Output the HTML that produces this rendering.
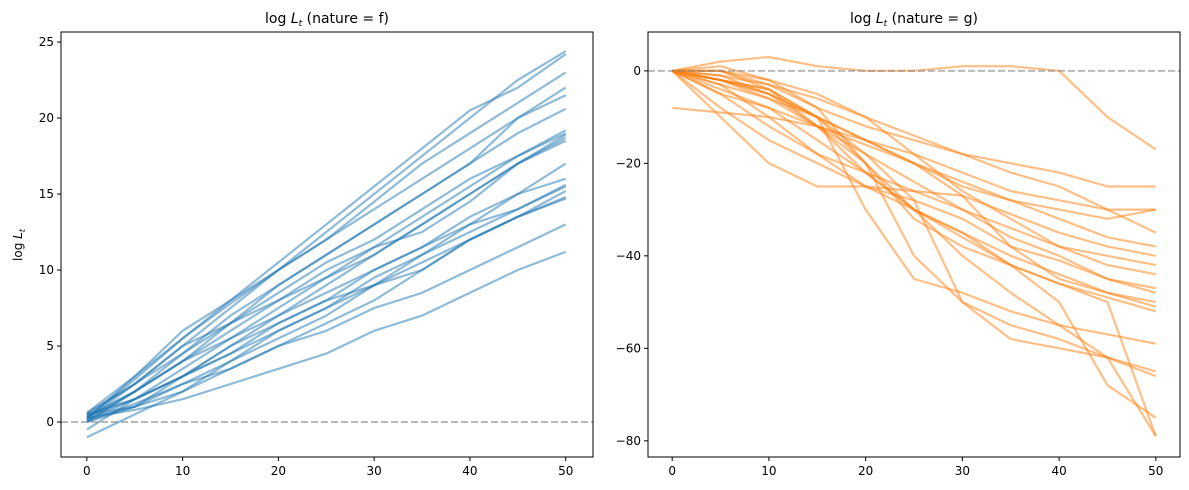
<!DOCTYPE html>
<html><head><meta charset="utf-8"><style>
body{margin:0;background:#fff;}
svg{display:block;font-family:"DejaVu Sans","Liberation Sans",sans-serif;}
</style></head><body>
<svg id="chart" width="1189" height="490" xmlns="http://www.w3.org/2000/svg"></svg>
<script>
const leftX = [0,5,10,15,20,25,30,35,40,45,50];
const leftSeries = [
[0.5,2.5,5,7.5,10,12.5,15,17.5,20,22.5,24.4],
[0.3,2.8,5.5,8,10.5,13,15.5,18,20.5,22,24.2],
[0.2,3,6,8,10,12,14.5,17,19,21,23],
[0.6,3,5.5,7.8,10,12,14,16,18,20,22],
[0,2,4,6.5,9,11,13,15,17,19,20.6],
[0.4,2,4.5,6.5,8.5,10.5,12,14,16,17.5,19.2],
[-0.5,1.5,3.5,5.5,7.5,9.5,11.5,13.5,15.5,17.5,19],
[0.5,1.5,3,5,7,9,11,13,15,17,18.5],
[0.2,2.5,5,6.5,8,10,11.5,12.5,14.5,17,18.7],
[0,1,3,4.5,6.5,8,10,11.5,13,15,17],
[0.3,2,4,5.5,7,8.5,10,11.5,13.5,15,16],
[0.1,1.5,3,4.5,6,7.5,9.5,11,12.5,14,15.6],
[-1,0.5,2,4,5.5,7,9,10.5,12,13.5,15.2],
[0.2,1,2.5,4,6,7.5,9,10,12,13.5,14.8],
[0.5,1,2,3.5,5,6.5,8,10,12,13.5,14.7],
[0,1.2,2.5,3.5,5,6,7.5,8.5,10,11.5,13],
[0.3,0.8,1.5,2.5,3.5,4.5,6,7,8.5,10,11.2],
[0.4,1.5,3,5,6.5,8,9,11,13,14,15.5],
[0.1,2,4,6,8,9.5,11,13,15,17,18.9],
[0.6,2.5,4.5,7,9,11,13,15,17,20,21.5]
];
const rightSeries = [
[0,2,3,1,0,0,1,1,0,-10,-17],
[0,1,-2,-8,-12,-15,-18,-20,-22,-25,-25],
[0,-2,-5,-10,-15,-20,-25,-28,-30,-32,-30],
[-8,-9,-10,-12,-15,-18,-22,-26,-28,-30,-30],
[0,0,-3,-6,-10,-14,-18,-22,-25,-30,-35],
[0,-5,-8,-12,-16,-20,-24,-28,-32,-36,-38],
[0,-3,-6,-10,-15,-20,-27,-31,-35,-38,-40],
[0,-2,-4,-12,-18,-24,-30,-34,-38,-40,-42],
[0,0,-2,-5,-10,-18,-26,-32,-38,-42,-44],
[0,-8,-15,-20,-25,-28,-32,-38,-41,-45,-47],
[0,-5,-12,-18,-22,-26,-30,-36,-40,-45,-48],
[0,-10,-20,-25,-25,-26,-27,-38,-45,-48,-50],
[0,-4,-8,-15,-22,-30,-35,-40,-44,-48,-51],
[0,0,-4,-10,-20,-32,-38,-42,-46,-49,-52],
[0,-2,-5,-10,-30,-45,-48,-52,-55,-57,-59],
[0,-1,-3,-8,-20,-40,-50,-55,-58,-62,-65],
[0,-2,-4,-10,-18,-28,-50,-58,-60,-62,-66],
[0,-3,-10,-18,-25,-30,-35,-42,-50,-68,-75],
[0,-1,-5,-12,-20,-30,-40,-48,-55,-62,-79],
[0,-2,-6,-12,-22,-30,-36,-42,-46,-50,-79]
];
const xTicks = [0,10,20,30,40,50];
const leftYTicks = [0,5,10,15,20,25];
const rightYTicks = [0,-20,-40,-60,-80];

const NS="http://www.w3.org/2000/svg";
const svg=document.getElementById('chart');
function mk(tag,attrs,parent){const e=document.createElementNS(NS,tag);for(const k in attrs)e.setAttribute(k,attrs[k]);(parent||svg).appendChild(e);return e;}

function panel(opts){
  const {x0,x1,y0,y1,xmin,xmax,ymin,ymax,series,color,yTicks,title,name}=opts;
  const sx=v=>x0+(v-xmin)/(xmax-xmin)*(x1-x0);
  const sy=v=>y1-(v-ymin)/(ymax-ymin)*(y1-y0);
  const g=mk('g',{});
  
  
  series.forEach((s,i)=>{
    const d=s.map((v,j)=>(j?'L':'M')+sx(leftX[j]).toFixed(1)+' '+sy(v).toFixed(1)).join(' ');
    const p=mk('path',{d:d,fill:'none',stroke:color,'stroke-opacity':0.5,'stroke-width':2.2,'stroke-linejoin':'round'},g);
    
    
  });
  const z=mk('line',{x1:x0,x2:x1,y1:sy(0),y2:sy(0),stroke:'#808080','stroke-opacity':0.55,'stroke-width':2,'stroke-dasharray':'7,3'},g);
  
  
  const fr=mk('rect',{x:x0,y:y0,width:x1-x0,height:y1-y0,fill:'none',stroke:'#000','stroke-width':1},g);
  
  
  xTicks.forEach(t=>{
    const X=sx(t);
    mk('line',{x1:X,x2:X,y1:y1,y2:y1+4,stroke:'#000'},g);
    const tx=mk('text',{x:X,y:y1+18,'text-anchor':'middle','font-size':12,fill:'#000'},g);
    tx.textContent=t;
    
    
  });
  yTicks.forEach(t=>{
    const Y=sy(t);
    mk('line',{x1:x0-4,x2:x0,y1:Y,y2:Y,stroke:'#000'},g);
    const tx=mk('text',{x:x0-7,y:Y+4,'text-anchor':'end','font-size':12,fill:'#000'},g);
    tx.textContent=t<0?'\u2212'+(-t):t;
    
    
  });
  const ti=mk('text',{x:(x0+x1)/2,y:23,'text-anchor':'middle','font-size':14,fill:'#000'},g);
  ti.innerHTML='log <tspan font-style="italic">L</tspan><tspan font-style="italic" font-size="9" dy="3">t</tspan><tspan dy="-3"> (nature = '+title+')</tspan>';
  
  
}

panel({x0:61,x1:593,y0:32,y1:457,xmin:-2.7,xmax:52.85,ymin:-2.3,ymax:25.66,series:leftSeries,color:'#1f77b4',yTicks:leftYTicks,title:'f',name:'left-panel'});
panel({x0:648,x1:1180,y0:32,y1:457,xmin:-2.5,xmax:52.5,ymin:-83.5,ymax:8.4,series:rightSeries,color:'#ff7f0e',yTicks:rightYTicks,title:'g',name:'right-panel'});

const yl=mk('text',{x:22,y:245,'text-anchor':'middle','font-size':12,transform:'rotate(-90 22 245)'});
yl.innerHTML='log <tspan font-style="italic">L</tspan><tspan font-style="italic" font-size="8" dy="3">t</tspan>';


</script>
</body></html>
